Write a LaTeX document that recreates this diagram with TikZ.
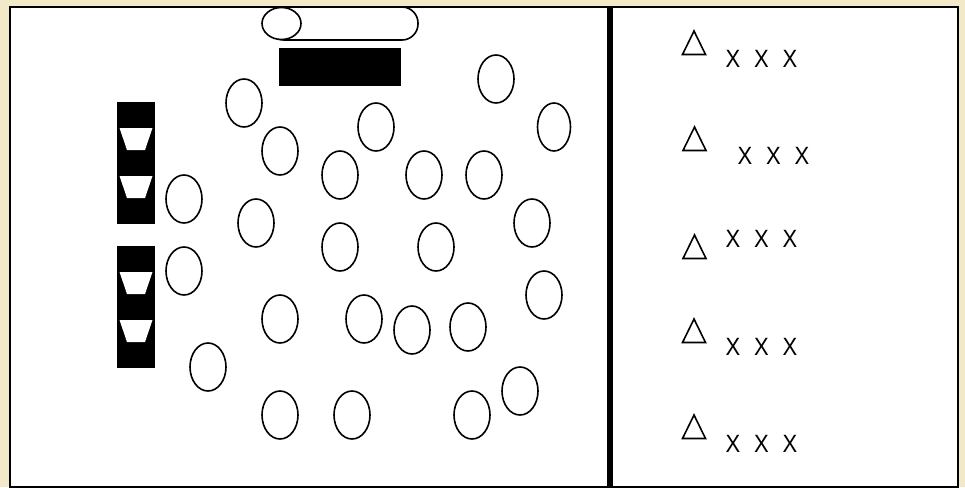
\documentclass[tikz,border=0pt]{standalone}
\usepackage{fontspec}
\setmainfont{Liberation Sans}
\usetikzlibrary{shapes.geometric}
\definecolor{parch}{HTML}{F2E9C9}
\tikzset{
  seat/.style={ellipse,draw=black,line width=1.6pt,fill=white,minimum width=36pt,minimum height=48pt,inner sep=0pt},
  block/.style={fill=black,draw=none},
  cup/.style={fill=white,draw=none},
  tri/.style={draw=black,line width=1.6pt,fill=white,line join=miter},
  marks/.style={inner sep=0pt,font=\fontsize{25pt}{27pt}\selectfont}
}
\newcommand{\xrow}{\scalebox{.88}[1]{\spaceskip=15.7pt X X X}}
\begin{document}
\begin{tikzpicture}[x=1pt,y=-1pt]
\useasboundingbox (0,0) rectangle (965,487);
\fill[parch] (0,0) rectangle (965,487);
\draw[line width=2pt,fill=white] (10,7) rectangle (958,486.5);
\fill[black] (607,7) rectangle (613,487);
% pill and table
\draw[line width=1.6pt,fill=white,rounded corners=16pt] (268,7) rectangle (418,40);
\node[seat,minimum width=39pt,minimum height=32pt] (head) at (281.5,23.5) {};
\fill[block] (279,48) rectangle (401,86);
% side blocks
\fill[block] (117,102) rectangle (155,224);
\fill[block] (117,246) rectangle (155,368);
\foreach \t in {128,176,272,320}
  \fill[cup] (119.5,\t) -- (152.5,\t) -- (145,\t+22) -- (127,\t+22) -- cycle;
% seats
\foreach \n/\x/\y in {a/244/103,b/280/151,c/376/127,d/496/79,f/340/175,g/424/175,h/484/175,i/184/199,j/256/223,k/340/247,l/436/247,m/532/223,n/184/271,o/544/295,p/280/319,q/364/319,r/412/330,s/468/327,t/208/367,u/280/415,v/352/415,w/472/415,z/520/391}
  \node[seat] (\n) at (\x,\y) {};
\node[seat,minimum width=33pt] (e) at (554,127) {};
% triangles
\foreach \x/\t in {694/31,694.5/127,694.5/235,694/319,694/415}
  \draw[tri] (\x,\t) -- (\x+11.5,\t+23.5) -- (\x-11.5,\t+23.5) -- cycle;
% marks
\node[marks] (r1) at (761.5,59) {\xrow};
\node[marks] (r2) at (773.5,155.5) {\xrow};
\node[marks] (r3) at (761.5,238.5) {\xrow};
\node[marks] (r4) at (761.5,347) {\xrow};
\node[marks] (r5) at (761.5,443.5) {\xrow};
\end{tikzpicture}
\end{document}
